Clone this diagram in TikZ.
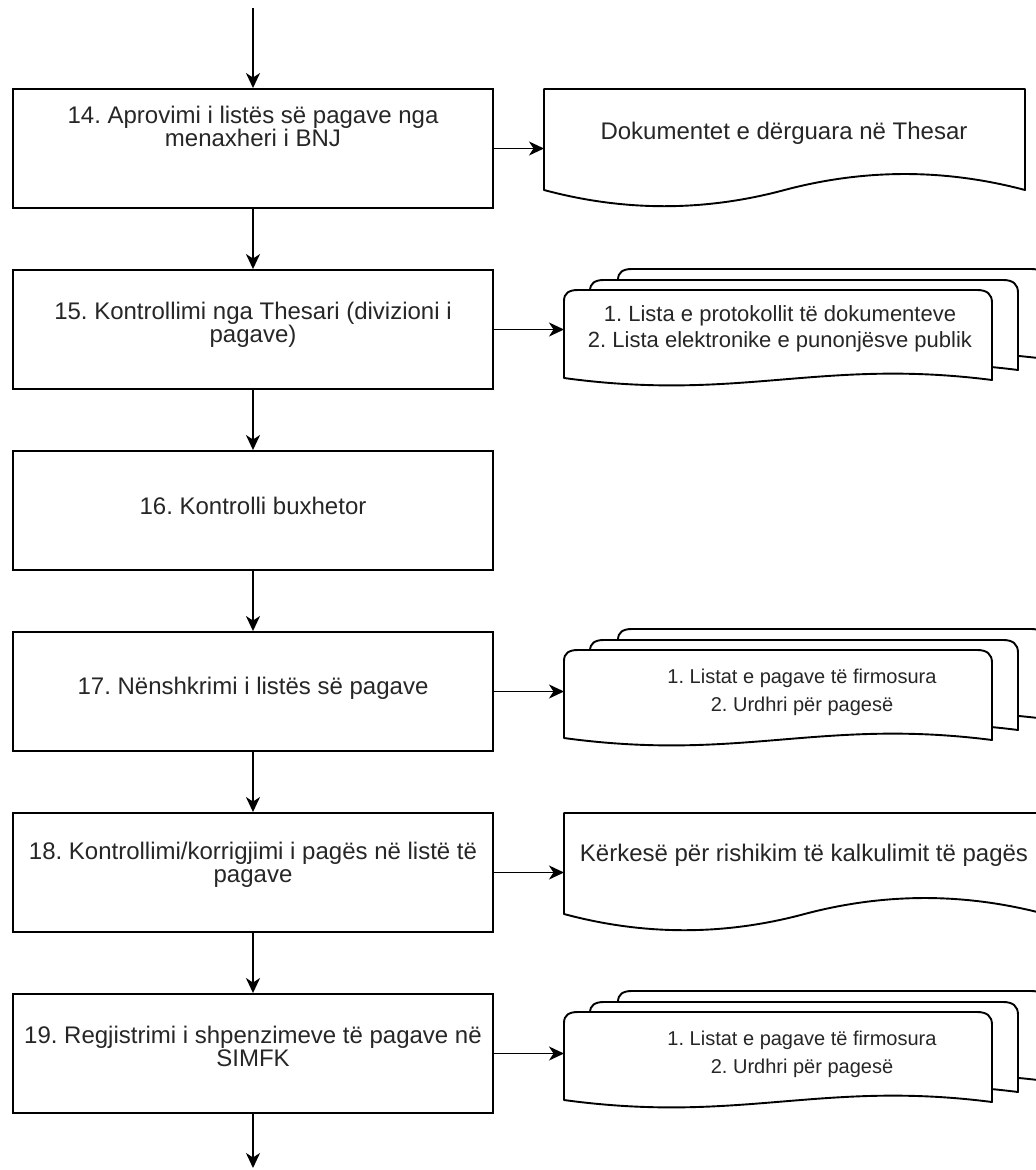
\documentclass[tikz,border=0pt]{standalone}
\usepackage{fontspec}
\setmainfont{Liberation Sans}
\usetikzlibrary{arrows.meta}

% single document sheet with a wavy bottom (w = 481, h = 119)
\newcommand{\onedoc}[2]{%
  \path[docline] ({#1},{#2}) -- ({#1+481},{#2}) -- ({#1+481},{#2+101})
    .. controls ({#1+400.8},{#2+79.7}) and ({#1+320.7},{#2+79.7}) .. ({#1+240.5},{#2+101})
    .. controls ({#1+160.3},{#2+122.6}) and ({#1+80.2},{#2+122.6}) .. ({#1},{#2+101}) -- cycle;}

% one sheet of a stack: rounded top corners, wavy bottom (w = 428)
\newcommand{\pagedoc}[2]{%
  \path[docline] ({#1},{#2+88}) -- ({#1},{#2+11})
    .. controls ({#1},{#2+3}) and ({#1+5},{#2}) .. ({#1+14},{#2})
    -- ({#1+413},{#2})
    .. controls ({#1+423},{#2}) and ({#1+428},{#2+4}) .. ({#1+428},{#2+13})
    -- ({#1+428},{#2+90})
    .. controls ({#1+256},{#2+68}) and ({#1+176},{#2+112}) .. ({#1},{#2+88}) -- cycle;}

% three stacked sheets, front sheet at (#1,#2)
\newcommand{\docstack}[2]{%
  \pagedoc{#1+54}{#2-21}\pagedoc{#1+26}{#2-10}\pagedoc{#1}{#2}}

\begin{document}
\frenchspacing
\begin{tikzpicture}[x=1pt,y=-1pt,
  stepbox/.style={draw=black, line width=1.9pt, minimum width=480pt,
    minimum height=119pt, inner sep=0pt},
  boxtext/.style={align=center, font=\fontsize{24}{23}\selectfont,
    text=black!85, inner sep=0pt},
  doctext/.style={align=center, font=\fontsize{24}{23}\selectfont,
    text=black!85, inner sep=0pt},
  listtext/.style={align=center, font=\fontsize{22}{26}\selectfont,
    text=black!85, inner sep=0pt},
  smalltext/.style={align=center, font=\fontsize{20}{28}\selectfont,
    text=black!85, inner sep=0pt},
  docline/.style={draw=black, fill=white, line width=1.9pt, line join=round},
  flow/.style={draw=black, line width=1.9pt,
    -{Stealth[length=15pt,width=14pt,inset=4.5pt]}},
]
\useasboundingbox (0,0) rectangle (1036,1170);
\clip (0,0) rectangle (1036,1170);

% process steps
\node[stepbox] (b14) at (253,148.5) {};
\node[stepbox] (b15) at (253,329.5) {};
\node[stepbox] (b16) at (253,510.5) {};
\node[stepbox] (b17) at (253,691.5) {};
\node[stepbox] (b18) at (253,872.5) {};
\node[stepbox] (b19) at (253,1053.5) {};

\node[boxtext] (t14) at (253,126) {14. Aprovimi i listës së pagave nga\\menaxheri i BNJ};
\node[boxtext] (t15) at (253,325) {15. Kontrollimi nga Thesari (divizioni i\\pagave)};
\node[boxtext] (t16) at (253,506) {16. Kontrolli buxhetor};
\node[boxtext] (t17) at (253,688) {17. Nënshkrimi i listës së pagave};
\node[boxtext] (t18) at (253,865) {18. Kontrollimi/korrigjimi i pagës në listë të\\pagave};
\node[boxtext] (t19) at (253,1046) {19. Regjistrimi i shpenzimeve të pagave në\\SIMFK};

% documents
\onedoc{544}{89}
\docstack{564}{290}
\docstack{564}{650}
\onedoc{564}{813}
\docstack{564}{1012}

\node[doctext] (t14d) at (784,133) {Dokumentet e dërguara në Thesar};
\node[listtext] (t15d) at (780,329) {1. Lista e protokollit të dokumenteve\\2. Lista elektronike e punonjësve publik};
\node[smalltext] (t17d) at (802,692) {1. Listat e pagave të firmosura\\2. Urdhri për pagesë};
\node[doctext] (t18d) at (804,855) {Kërkesë për rishikim të kalkulimit të pagës};
\node[smalltext] (t19d) at (802,1054) {1. Listat e pagave të firmosura\\2. Urdhri për pagesë};

% connector ends
\coordinate (start) at (253,8);
\coordinate (finish) at (253,1168);
\coordinate (d14) at (544,148.5);
\coordinate (d15) at (564,329.5);
\coordinate (d17) at (564,691.5);
\coordinate (d18) at (564,872.5);
\coordinate (d19) at (564,1053.5);

% main flow
\draw[flow] (start) -- (b14.north);
\draw[flow] (b14.south) -- (b15.north);
\draw[flow] (b15.south) -- (b16.north);
\draw[flow] (b16.south) -- (b17.north);
\draw[flow] (b17.south) -- (b18.north);
\draw[flow] (b18.south) -- (b19.north);
\draw[flow] (b19.south) -- (finish);

% outputs
\draw[flow] (b14.east) -- (d14);
\draw[flow] (b15.east) -- (d15);
\draw[flow] (b17.east) -- (d17);
\draw[flow] (b18.east) -- (d18);
\draw[flow] (b19.east) -- (d19);
\end{tikzpicture}
\end{document}
